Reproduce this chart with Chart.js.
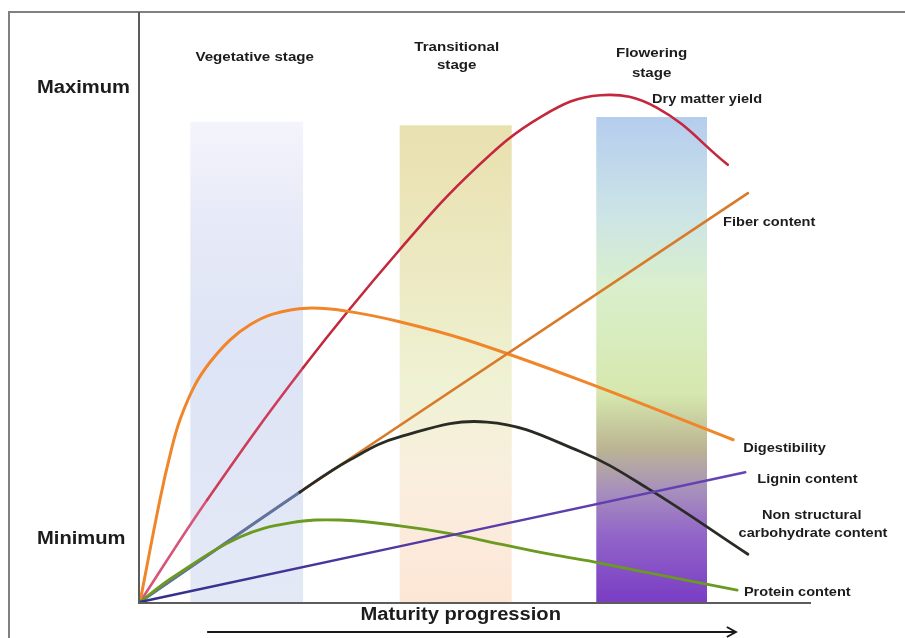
<!DOCTYPE html>
<html>
<head>
<meta charset="utf-8">
<script src="https://cdn.jsdelivr.net/npm/chart.js@4.4.0/dist/chart.umd.min.js"></script>
<style>
    html, body { margin: 0; padding: 0; background: #fff; }
    #maturity-chart-content { position: relative; width: 905px; height: 638px; }
</style>
</head>
<body>
<div id="maturity-chart-content">
    <canvas id="maturity-chart" width="905" height="638"></canvas>
</div>
<script>
// x = maturity progression (0..100), y = relative level (0 = minimum at origin, 100 = top of axis)
const dryMatterX = [0, 10.0, 24.3, 38.7, 50.0, 60.0, 68.6, 77.0, 87.6];
const dryMatterY = [0, 17.3, 39.7, 59.7, 73.5, 82.4, 85.9, 83.8, 74.1];

const digestX = [0, 3.0, 4.6, 6.0, 8.2, 10.4, 13.4, 16.4, 19.8, 24.9, 30.8, 38.7, 48.7, 65.6, 88.4];
const digestY = [0, 17.5, 25.5, 31.0, 36.8, 40.6, 44.4, 47.0, 48.8, 49.8, 49.3, 47.5, 44.4, 37.6, 27.5];

const fiberX = [0, 23.8, 90.6];
const fiberY = [0, 18.6, 69.3];

const carbX = [0, 23.8, 31.3, 38.7, 51.7, 65.6, 75.6, 90.6];
const carbY = [0, 18.6, 24.1, 28.0, 30.5, 25.5, 19.3, 8.1];

const proteinX = [0, 4.9, 14.9, 22.4, 29.8, 38.7, 46.2, 53.7, 61.1, 68.6, 75.6, 89.0];
const proteinY = [0, 4.2, 11.0, 13.4, 13.9, 12.9, 11.6, 9.8, 8.1, 6.6, 5.0, 2.0];

const ligninX = [0, 90.2];
const ligninY = [0, 22.0];

// growth stages (x from / to, top of band)
const stageNames = [['Vegetative stage'], ['Transitional', 'stage'], ['Flowering', 'stage']];
const stageFrom = [7.5, 38.7, 68.0];
const stageTo = [24.3, 55.4, 84.5];
const stageTop = [81.4, 80.8, 82.2];

// curve names and where they are written
const curveLabels = ['Dry matter yield', 'Fiber content', 'Digestibility', 'Lignin content', 'Protein content'];
const curveLabelX = [76.3, 86.9, 89.9, 92.0, 90.0];
const curveLabelY = [85.1, 64.4, 26.1, 20.8, 1.7];
const carbLabel = ['Non structural', 'carbohydrate content'];

const levelNames = ['Maximum', 'Minimum'];
const levelY = [87.1, 10.7];

const axisTitle = 'Maturity progression';

function points(xs, ys) {
    return xs.map((x, i) => ({x: x, y: ys[i]}));
}

const STRETCH = 1.12;
function stretchedText(ctx, text, x, y, size, align) {
    ctx.save();
    ctx.font = 'bold ' + size + 'px "Liberation Sans", Arial, sans-serif';
    ctx.fillStyle = '#1c1c1c';
    ctx.textBaseline = 'middle';
    ctx.textAlign = 'left';
    var w = ctx.measureText(text).width * STRETCH;
    var left = x;
    if (align === 'center') left = x - w / 2;
    if (align === 'right') left = x - w;
    ctx.translate(left, y);
    ctx.scale(STRETCH, 1);
    ctx.fillText(text, 0, 0);
    ctx.restore();
}

const bandColors = [
    [[0, '#f4f4fb'], [0.22, '#e6e9f7'], [0.5, '#dde4f5'], [1, '#e4e9f6']],
    [[0, '#e9e0af'], [0.3, '#ece9c2'], [0.55, '#eff2d4'], [0.75, '#faeedf'], [1, '#fde6d6']],
    [[0, '#b5cdee'], [0.2, '#cce4e6'], [0.35, '#d9efcc'], [0.57, '#d6e8ae'], [0.68, '#bcb692'],
     [0.77, '#a790bc'], [0.86, '#9266c8'], [1, '#7a3dc4']]
];

const stageBands = {
    id: 'stageBands',
    beforeDatasetsDraw(chart) {
        const ctx = chart.ctx;
        const x = chart.scales.x, y = chart.scales.y;
        stageFrom.forEach((from, i) => {
            const left = x.getPixelForValue(from);
            const right = x.getPixelForValue(stageTo[i]);
            const top = y.getPixelForValue(stageTop[i]);
            const bottom = y.getPixelForValue(0);
            const g = ctx.createLinearGradient(0, top, 0, bottom);
            bandColors[i].forEach(s => g.addColorStop(s[0], s[1]));
            ctx.save();
            ctx.fillStyle = g;
            ctx.fillRect(left, top, right - left, bottom - top);
            ctx.restore();
        });
    }
};

const decorations = {
    id: 'decorations',
    afterDraw(chart) {
        const ctx = chart.ctx;
        const a = chart.chartArea;
        const x = chart.scales.x, y = chart.scales.y;

        // outer frame (top and left)
        ctx.save();
        ctx.strokeStyle = '#808080';
        ctx.lineWidth = 2;
        ctx.beginPath();
        ctx.moveTo(9, chart.height);
        ctx.lineTo(9, a.top);
        ctx.lineTo(chart.width, a.top);
        ctx.stroke();

        // axes
        ctx.strokeStyle = '#5c5c5c';
        ctx.beginPath();
        ctx.moveTo(a.left - 1, a.top);
        ctx.lineTo(a.left - 1, a.bottom + 1);
        ctx.lineTo(a.right, a.bottom + 1);
        ctx.stroke();

        // maturity arrow
        const ay = a.bottom + 30;
        const ax0 = x.getPixelForValue(10.0), ax1 = x.getPixelForValue(88.8);
        ctx.strokeStyle = '#1a1a1a';
        ctx.lineWidth = 2;
        ctx.beginPath();
        ctx.moveTo(ax0, ay);
        ctx.lineTo(ax1, ay);
        ctx.moveTo(ax1 - 9, ay - 5);
        ctx.lineTo(ax1, ay);
        ctx.lineTo(ax1 - 9, ay + 5);
        ctx.stroke();
        ctx.restore();

        // texts
        stretchedText(ctx, axisTitle, x.getPixelForValue(47.8), a.bottom + 13, 18, 'center');
        levelNames.forEach((t, i) => {
            stretchedText(ctx, t, a.left - 103, y.getPixelForValue(levelY[i]), 18, 'left');
        });
        const stageDx = [8, 1, 0];
        const stageY = [[57], [47, 65], [53, 73]];
        stageNames.forEach((lines, i) => {
            const cx = (x.getPixelForValue(stageFrom[i]) + x.getPixelForValue(stageTo[i])) / 2 + stageDx[i];
            lines.forEach((t, j) => stretchedText(ctx, t, cx, stageY[i][j], 13.5, 'center'));
        });
        curveLabels.forEach((t, i) => {
            stretchedText(ctx, t, x.getPixelForValue(curveLabelX[i]), y.getPixelForValue(curveLabelY[i]), 13, 'left');
        });
        stretchedText(ctx, carbLabel[0], x.getPixelForValue(100.1), y.getPixelForValue(14.7), 13, 'center');
        stretchedText(ctx, carbLabel[1], x.getPixelForValue(100.3), y.getPixelForValue(11.7), 13, 'center');
    }
};

function ligninColor(context) {
    const chart = context.chart;
    const a = chart.chartArea;
    if (!a) return '#5a40ae';
    const g = chart.ctx.createLinearGradient(a.left, 0, a.right, 0);
    g.addColorStop(0, '#30308a');
    g.addColorStop(0.5, '#5a3aa8');
    g.addColorStop(1, '#6a46ba');
    return g;
}

var config = {
    type: 'line',
    data: {
        datasets: [
            {
                label: 'Lignin content',
                data: points(ligninX, ligninY),
                borderColor: ligninColor,
                borderWidth: 2.5
            },
            {
                label: 'Protein content',
                data: points(proteinX, proteinY),
                borderColor: '#6b9a20',
                borderWidth: 2.8
            },
            {
                label: 'Non structural carbohydrate content',
                data: points(carbX, carbY),
                borderColor: '#2b2b26',
                borderWidth: 2.8,
                segment: {
                    borderColor: ctx => ctx.p0DataIndex === 0 ? '#62749c' : undefined
                }
            },
            {
                label: 'Fiber content',
                data: points(fiberX, fiberY),
                borderColor: '#d97a2a',
                borderWidth: 2.6,
                tension: 0,
                segment: {
                    borderColor: ctx => ctx.p0DataIndex === 0 ? '#6c7ea6' : undefined
                }
            },
            {
                label: 'Digestibility',
                data: points(digestX, digestY),
                borderColor: '#f0852a',
                borderWidth: 3
            },
            {
                label: 'Dry matter yield',
                data: points(dryMatterX, dryMatterY),
                borderColor: '#c4283c',
                borderWidth: 2.6,
                segment: {
                    borderColor: ctx => ctx.p0DataIndex === 0 ? '#d8557a' : (ctx.p0DataIndex === 1 ? '#cf3c5a' : undefined)
                }
            }
        ]
    },
    options: {
        responsive: false,
        animation: false,
        clip: false,
        layout: {
            padding: {left: 140, right: 94, top: 12, bottom: 36}
        },
        elements: {
            point: {radius: 0, hoverRadius: 0},
            line: {tension: 0.4, borderCapStyle: 'round', borderJoinStyle: 'round'}
        },
        plugins: {
            legend: {display: false},
            tooltip: {enabled: false}
        },
        scales: {
            x: {type: 'linear', min: 0, max: 100, display: false},
            y: {type: 'linear', min: 0, max: 100, display: false}
        }
    },
    plugins: [stageBands, decorations]
};

var ctx = document.getElementById('maturity-chart').getContext('2d');
window.maturityChart = new Chart(ctx, config);
</script>
</body>
</html>
